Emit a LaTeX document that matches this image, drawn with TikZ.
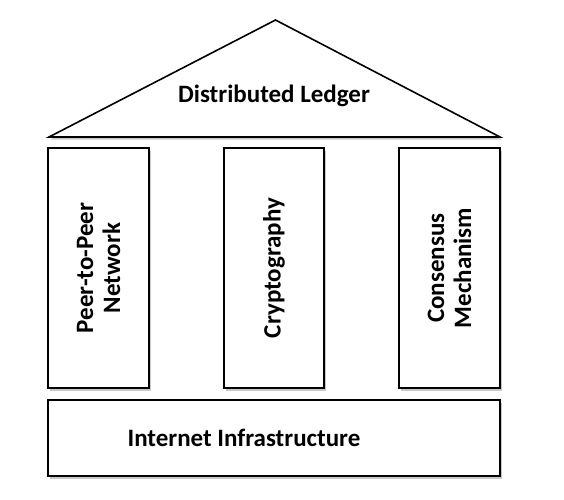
\documentclass[tikz,border=0pt]{standalone}
\usepackage{fontspec}
\setmainfont{Carlito}
\usetikzlibrary{shadows}
\begin{document}
\begin{tikzpicture}[x=1pt,y=-1pt,
  part/.style={draw=black,line width=1.6pt,fill=white,
    drop shadow={shadow xshift=1.5pt,shadow yshift=-2.5pt,fill=black!30,opacity=0.7}},
  lbl/.style={font=\bfseries\fontsize{25}{27}\selectfont,align=center,inner sep=0pt},
  vlbl/.style={lbl,rotate=90}]
\useasboundingbox (0,0) rectangle (564,499);
% roof
\draw[part,line join=miter] (49,137) -- (275.5,20) -- (500,137) -- cycle;
\node[lbl] (roof) at (274,96) {Distributed Ledger};
% pillars
\draw[part] (48,148) rectangle (149,388);
\draw[part] (224,148) rectangle (324,388);
\draw[part] (399,148) rectangle (500,388);
\node[vlbl] (p2p) at (98.5,268) {Peer-to-Peer\\Network};
\node[vlbl] (crypto) at (274,268) {Cryptography};
\node[vlbl] (cons) at (449.5,268) {Consensus\\Mechanism};
% base
\draw[part] (48,400) rectangle (500,476);
\node[lbl] (base) at (244,438) {Internet Infrastructure};
\end{tikzpicture}
\end{document}
